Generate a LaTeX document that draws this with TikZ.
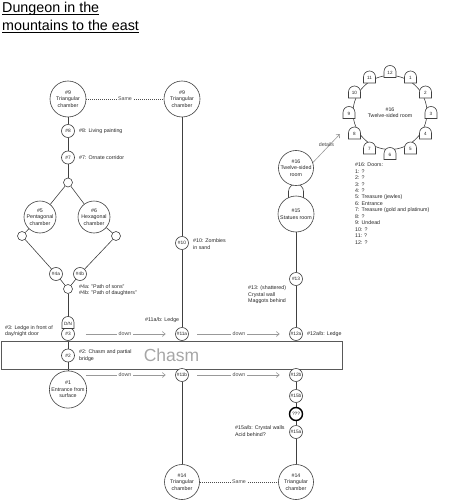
\documentclass[tikz,border=0pt]{standalone}
\usepackage{fontspec}
\setmainfont{Liberation Sans}
\usetikzlibrary{arrows.meta,backgrounds}
\begin{document}
\begin{tikzpicture}[x=1pt,y=1pt,
  every node/.style={font=\fontsize{5.3}{6.45}\selectfont, text=black!85},
  room/.style={circle,draw=black!75,line width=0.6pt,fill=white,inner sep=0pt,align=center},
  big/.style={room,minimum size=36pt},
  mid/.style={room,minimum size=32pt},
  sm/.style={room,minimum size=13pt,font=\fontsize{4.8}{5.5}\selectfont},
  jn/.style={room,minimum size=9pt},
  conn/.style={draw=black!75,line width=0.6pt},
  same/.style={draw=black!70,line width=0.6pt,dash pattern=on 1pt off 1pt},
  grayarrow/.style={draw=black!40,line width=0.6pt,-{Straight Barb[length=3pt,width=5pt]}},
  lbl/.style={anchor=west,align=left,inner sep=0pt},
  onl/.style={fill=white,inner sep=1.5pt,text=black!70},
  pics/door/.style={code={
    \draw[black!75,line width=0.6pt,fill=white] (-6,-6) -- (-6,0) arc[start angle=180,end angle=0,radius=6] -- (6,-6) -- cycle;
    \node[font=\fontsize{4.6}{5}\selectfont,inner sep=0pt] at (0,-1) {#1};}}
]
\useasboundingbox (0,0) rectangle (457,-500);

% title
\node[anchor=base west,inner sep=0pt,font=\fontsize{14.3}{16}\selectfont,text=black] (t1) at (2,-12.5) {Dungeon in the};
\node[anchor=base west,inner sep=0pt,font=\fontsize{14.3}{16}\selectfont,text=black] (t2) at (2,-30.5) {mountains to the east};
\draw[line width=0.7pt] ([yshift=-1.7pt]t1.base west) -- ([yshift=-1.7pt]t1.base east);
\draw[line width=0.7pt] ([yshift=-1.7pt]t2.base west) -- ([yshift=-1.7pt]t2.base east);

% chasm box
\node[draw=black!65,line width=0.7pt,minimum width=341pt,minimum height=28pt,inner sep=0pt,
      font=\fontsize{17.5}{20}\selectfont,text=black!35] (chasm) at (171.5,-355) {Chasm};

% left column
\node[big] (n9l) at (68,-99) {\#9\\Triangular\\chamber};
\node[sm] (n8) at (68,-131) {\#8};
\node[sm] (n7) at (68,-157.5) {\#7};
\node[jn] (j1) at (68,-182.5) {};
\node[mid] (n5) at (40,-217) {\#5\\Pentagonal\\chamber};
\node[mid] (n6) at (94,-217) {\#6\\Hexagonal\\chamber};
\node[jn] (j5) at (22,-236) {};
\node[jn] (j6) at (116,-236) {};
\node[sm] (n4a) at (56,-274) {\#4a};
\node[sm] (n4b) at (80,-274) {\#4b};
\node[jn] (j2) at (68,-289) {};
\node[sm] (n3) at (68,-334) {\#3};
\node[sm] (n2) at (68,-355.5) {\#2};
\node[big,minimum size=35pt] (n1) at (68,-389.5) {\#1\\Entrance from\\surface};

% middle column
\node[big] (n9r) at (182,-99) {\#9\\Triangular\\chamber};
\node[sm] (n10) at (182,-243) {\#10};
\node[sm] (n11a) at (182,-334) {\#11a};
\node[sm] (n11b) at (182,-375) {\#11b};
\node[big,minimum size=35pt] (n14l) at (182,-482) {\#14\\Triangular\\chamber};

% right column
\node[big,minimum size=35pt] (n16) at (296,-168) {\#16\\Twelve-sided\\room};
\node[big] (n15) at (296,-214) {\#15\\Statues room};
\node[sm] (n13) at (296,-279) {\#13};
\node[sm] (n12a) at (296,-334) {\#12a};
\node[sm] (n12b) at (296,-375) {\#12b};
\node[sm] (n15b) at (296,-396) {\#15b};
\node[sm,line width=1.4pt,draw=black] (nq) at (296,-414) {???};
\node[sm] (n15a) at (296,-432) {\#15a};
\node[big,minimum size=35pt] (n14r) at (296,-482) {\#14\\Triangular\\chamber};

% twelve-sided room
\node[room,minimum size=74pt] (ring) at (390,-112.5) {\#16\\Twelve-sided room};
\foreach \k in {1,...,12} \pic at ([shift={({90-30*\k}:41)}]ring.center) {door=\k};
\coordinate (dt) at (340,-134);

% door D/N
\pic at (68,-322.5) {door=D/N};

% labels
\node[lbl] (l8) at (79,-131) {\#8: Living painting};
\node[lbl] (l7) at (79,-157.5) {\#7: Ornate corridor};
\node[lbl] (l4) at (79,-290) {\#4a: "Path of sons"\\\#4b: "Path of daughters"};
\node[lbl] (l10) at (193,-244) {\#10: Zombies\\in sand};
\node[lbl] (l13) at (248,-295) {\#13: (shattered)\\Crystal wall\\Maggots behind};
\node[lbl] (l3) at (5,-331) {\#3: Ledge in front of\\day/night door};
\node[lbl] (l2) at (79,-355.5) {\#2: Chasm and partial\\bridge};
\node[lbl] (l11) at (145,-320) {\#11a/b: Ledge};
\node[lbl] (l12) at (307,-334) {\#12a/b: Ledge};
\node[lbl] (l15) at (235,-431) {\#15a/b: Crystal walls\\Acid behind?};
\node[lbl,anchor=north west] (l16) at (355,-162.8) {\#16: Doors:\\1: ?\\2: ?\\3: ?\\4: ?\\5: Treasure (jewles)\\6: Entrance\\7: Treasure (gold and platinum)\\8: ?\\9: Undead\\10: ?\\11: ?\\12: ?};

\begin{pgfonlayer}{background}
  \draw[conn] (n9l) -- (n8) -- (n7) -- (j1);
  \draw[conn] (j1) -- (n5);
  \draw[conn] (j1) -- (n6);
  \draw[conn] (n5) -- (j5) -- (n4a) -- (j2);
  \draw[conn] (n6) -- (j6) -- (n4b) -- (j2);
  \draw[conn] (j2) -- (n3) -- (n2) -- (n1);
  \draw[conn] (n9r) -- (n10) -- (n11a);
  \draw[conn] (n11b) -- (n14l);
  \draw[conn] (n15) -- (n13) -- (n12a);
  \draw[conn] (n12b) -- (n15b) -- (nq) -- (n15a) -- (n14r);
  \draw[conn,fill=white] (288.5,-201) -- (288.5,-191.5) arc[start angle=180,end angle=0,radius=7.5] -- (303.5,-201);
  \draw[same] (n9l) -- node[onl]{Same} (n9r);
  \draw[same] (n14l) -- node[onl]{Same} (n14r);
  \draw[grayarrow,shorten <=11pt,shorten >=9.5pt] (n3) -- node[onl]{down} (n11a);
  \draw[grayarrow,shorten <=8.5pt,shorten >=9.5pt] (n11a) -- node[onl]{down} (n12a);
  \draw[grayarrow,shorten <=11pt,shorten >=9.5pt] (n3.east |- n11b) -- node[onl]{down} (n11b);
  \draw[grayarrow,shorten <=8.5pt,shorten >=9.5pt] (n11b) -- node[onl]{down} (n12b);
  \draw[grayarrow] (n16.18) -- node[midway,above=1.5pt,inner sep=0pt,text=black!70]{details} (dt);
\end{pgfonlayer}
\end{tikzpicture}
\end{document}
